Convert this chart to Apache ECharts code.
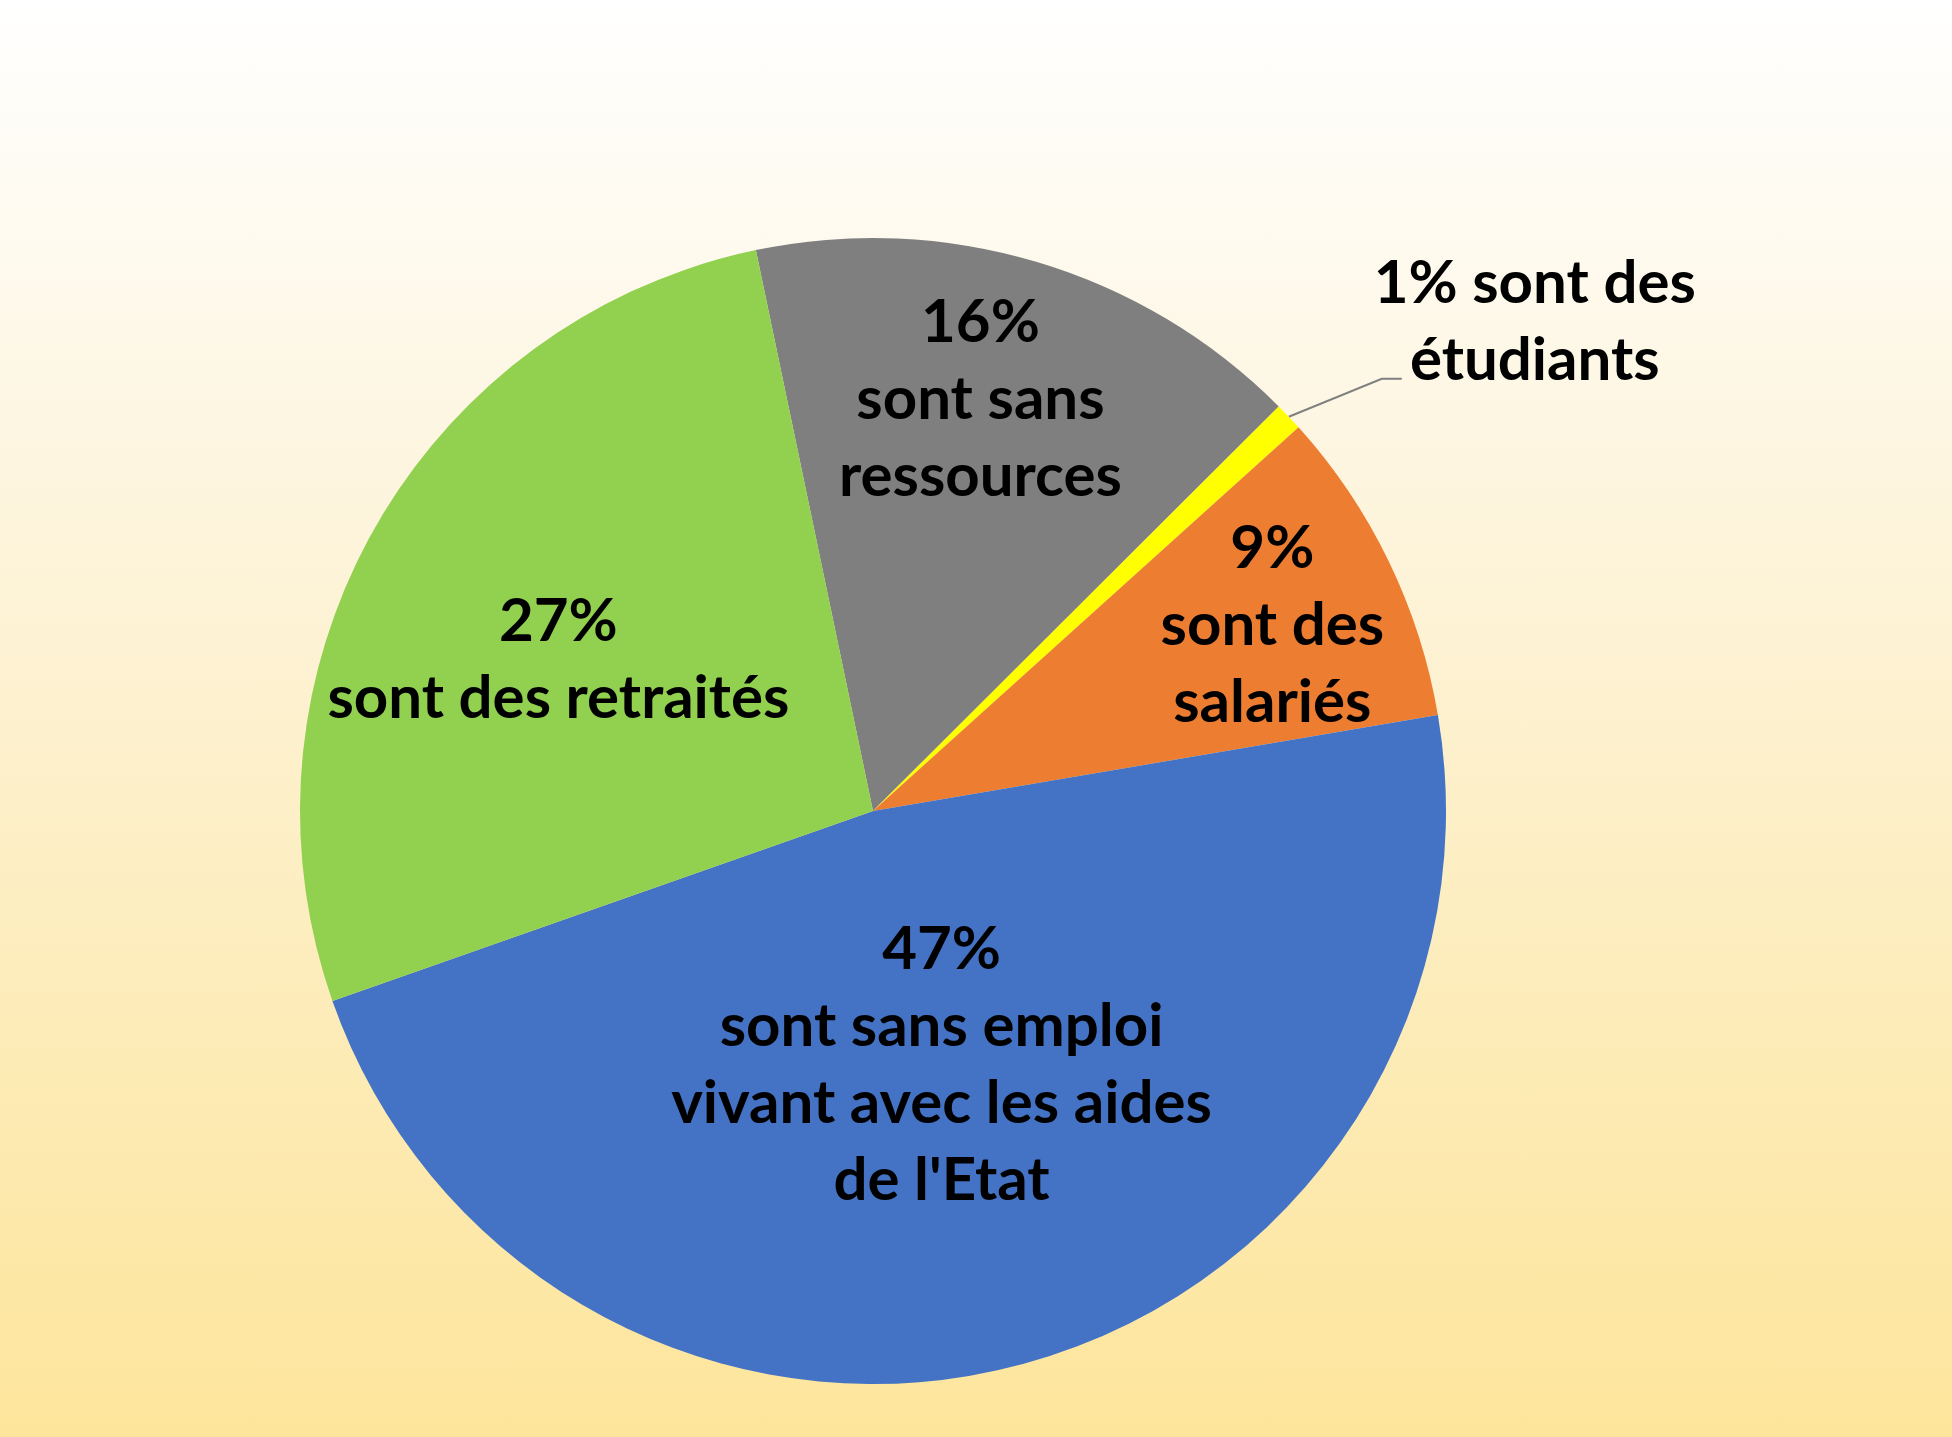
<!DOCTYPE html>
<html>
<head>
<meta charset="utf-8">
<script src="https://cdn.jsdelivr.net/npm/echarts@6/dist/echarts.min.js"></script>
<style>
  html, body { margin: 0; padding: 0; }
  #chart { width: 1952px; height: 1437px; background: linear-gradient(to bottom, #ffffff 0%, #fdf3d8 40%, #fde59b 100%); }
</style>
</head>
<body>
<div id="chart"></div>
<script>
// données du graphique (sens horaire depuis la part grise)
var categories = ['sans ressources', 'étudiants', 'salariés', 'sans emploi', 'retraités'];
var percents = [15.8, 0.8, 9.0, 47.3, 27.1];
var labelTexts = [
    '16%\nsont sans\nressources',
    '{c|1% sont des}\n{c|étudiants}',
    '9%\nsont des\nsalariés',
    '47%\nsont sans emploi\nvivant avec les aides\nde l\'Etat',
    '27%\nsont des retraités'
];
var colors = ['#7f7f7f', '#ffff00', '#ed7d31', '#4472c4', '#92d050'];
// position des étiquettes : fraction du rayon et décalage angulaire (degrés)
var labelRadius = [0.742, 0, 0.768, 0.459, 0.609];
var labelShift = [-2.0, 0, 1.0, -0.6, -3.8];

var cx = 873, cy = 811, R = 573;

var dom = document.getElementById('chart');
var myChart = echarts.init(dom);

var seriesData = [];
for (let i = 0; i < categories.length; i++) {
    let item = {
        name: categories[i],
        value: percents[i],
        itemStyle: { color: colors[i] },
        label: { formatter: labelTexts[i] }
    };
    if (i == 1) {
        // petite part : étiquette à l'extérieur avec trait
        item.label = {
            formatter: labelTexts[i],
            position: 'outside',
            rich: {
                c: { width: 316, align: 'center', fontFamily: 'Lato', fontWeight: 'bold', fontSize: 60, lineHeight: 77, color: '#000' }
            }
        };
        item.labelLine = {
            show: true,
            length: 60,
            length2: 20,
            lineStyle: { color: '#808080', width: 2 }
        };
    }
    seriesData.push(item);
}

var option = {
    animation: false,
    series: [
        {
            type: 'pie',
            center: [cx, cy],
            radius: R,
            startAngle: 101.8,
            clockwise: true,
            avoidLabelOverlap: false,
            data: seriesData,
            label: {
                show: true,
                position: 'inside',
                color: '#000',
                fontFamily: 'Lato',
                fontWeight: 'bold',
                fontSize: 60,
                lineHeight: 77,
                align: 'center'
            },
            labelLine: { show: false },
            labelLayout: function (params) {
                let i = params.dataIndex;
                if (i == 1) {
                    // trait comme dans Excel : oblique puis court palier horizontal
                    let p0 = params.labelLinePoints[0];
                    return {
                        x: p0[0] + 246,
                        y: p0[1] - 95,
                        align: 'center',
                        verticalAlign: 'middle',
                        labelLinePoints: [
                            [p0[0], p0[1]],
                            [p0[0] + 93, p0[1] - 38],
                            [p0[0] + 113, p0[1] - 38]
                        ]
                    };
                }
                let r = params.labelRect;
                let lx = r.x + r.width / 2, ly = r.y + r.height / 2;
                let a = Math.atan2(lx - cx, cy - ly) + labelShift[i] * Math.PI / 180;
                let d = labelRadius[i] * R;
                return {
                    x: cx + d * Math.sin(a),
                    y: cy - d * Math.cos(a),
                    align: 'center',
                    verticalAlign: 'middle'
                };
            },
            emphasis: { disabled: true }
        }
    ]
};

myChart.setOption(option);

window.addEventListener('resize', function () {
    myChart.resize();
});
</script>
</body>
</html>
